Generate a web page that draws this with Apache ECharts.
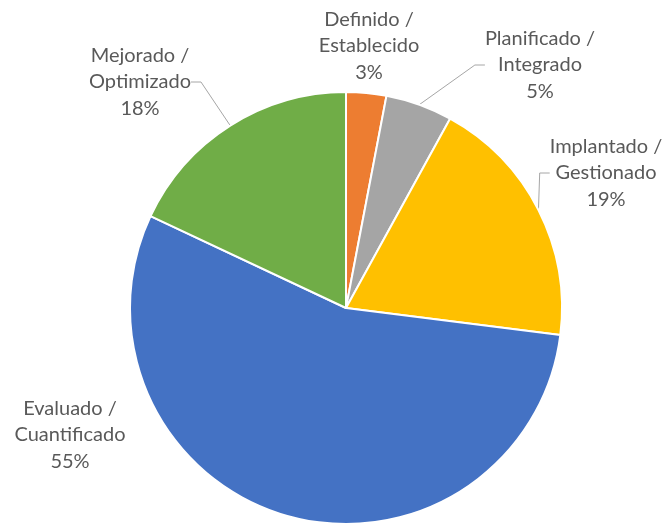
<!DOCTYPE html>
<html>
<head>
<meta charset="utf-8">
<script src="https://cdn.jsdelivr.net/npm/echarts@6/dist/echarts.min.js"></script>
<style>
  html, body { margin: 0; padding: 0; background: #fff; }
  #chart { width: 665px; height: 524px; }
</style>
</head>
<body>
<div id="chart"></div>
<script>
// Maturity levels, clockwise from 12 o'clock
const categories = [
  'Definido /\nEstablecido',
  'Planificado /\nIntegrado',
  'Implantado /\nGestionado',
  'Evaluado /\nCuantificado',
  'Mejorado /\nOptimizado'
];
const shares = [3, 5, 19, 55, 18];
const sliceColors = ['#ED7D31', '#A5A5A5', '#FFC000', '#4472C4', '#70AD47'];
// Where each label block is centred, and whether it gets a leader line
const labelSpots = [[369, 46], [540, 65], [606, 173], [70, 435], [140, 82]];
const leaderShown = [false, true, true, false, true];

const chart = echarts.init(document.getElementById('chart'), null, { renderer: 'canvas' });

chart.setOption({
  animation: false,
  backgroundColor: '#ffffff',
  series: [{
    type: 'pie',
    center: [346, 308],
    radius: [0, 216],
    startAngle: 90,
    clockwise: true,
    avoidLabelOverlap: false,
    itemStyle: { borderColor: '#ffffff', borderWidth: 2 },
    label: {
      show: true,
      position: 'outside',
      formatter: p => p.name + '\n' + p.value + '%',
      fontFamily: 'Lato, "Open Sans", sans-serif',
      fontSize: 20,
      lineHeight: 26.5,
      color: '#595959',
      align: 'center'
    },
    labelLine: {
      show: true,
      length: 10,
      length2: 10,
      lineStyle: { color: '#A6A6A6', width: 1 }
    },
    labelLayout: p => ({
      x: labelSpots[p.dataIndex][0],
      y: labelSpots[p.dataIndex][1],
      align: 'center',
      verticalAlign: 'middle'
    }),
    data: categories.map((name, i) => ({
      name,
      value: shares[i],
      itemStyle: { color: sliceColors[i] },
      labelLine: { show: leaderShown[i] }
    }))
  }]
});
</script>
</body>
</html>
